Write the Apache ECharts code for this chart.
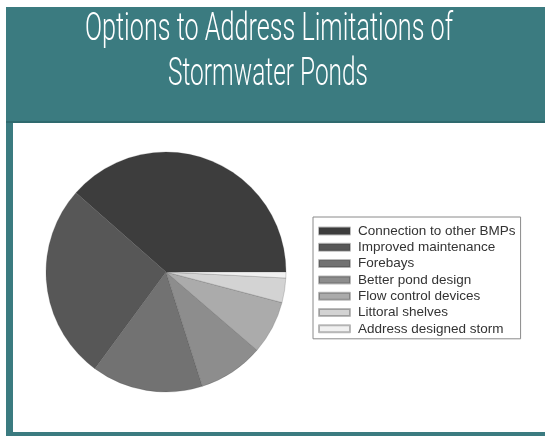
<!DOCTYPE html>
<html>
<head>
<meta charset="utf-8">
<script src="https://cdn.jsdelivr.net/npm/echarts@6/dist/echarts.min.js"></script>
<style>
  html, body { margin: 0; padding: 0; background: #ffffff; }
  #chart { width: 545px; height: 436px; }
</style>
</head>
<body>
<div id="chart"></div>
<script>
// Survey options and their shares (percent of responses)
const categories = [
  'Connection to other BMPs',
  'Improved maintenance',
  'Forebays',
  'Better pond design',
  'Flow control devices',
  'Littoral shelves',
  'Address designed storm'
];
const shares = [38.5, 26.4, 15.0, 8.8, 7.2, 3.3, 0.8];
const titleLines = ['Options to Address Limitations of', 'Stormwater Ponds'];

const shades = ['#3d3d3d', '#575757', '#727272', '#8d8d8d', '#ababab', '#d3d3d3', '#f0f0f0'];
const teal = '#3b7b80';

// Condensed headline: measure the natural width, then squeeze horizontally
const titleFont = '300 39px Roboto, "Liberation Sans", sans-serif';
const ctx = document.createElement('canvas').getContext('2d');
ctx.font = titleFont;
function squeeze(text, target) { return target / ctx.measureText(text).width; }

const chart = echarts.init(document.getElementById('chart'), null, { renderer: 'canvas' });

chart.setOption({
  animation: false,
  backgroundColor: '#ffffff',
  graphic: [
    { type: 'rect', shape: { x: 6, y: 7, width: 539, height: 116 }, style: { fill: teal }, z: 0 },
    { type: 'rect', shape: { x: 6, y: 121, width: 539, height: 2 }, style: { fill: '#2f6a6e' }, z: 1 },
    { type: 'rect', shape: { x: 6, y: 123, width: 7, height: 313 }, style: { fill: teal }, z: 0 },
    { type: 'rect', shape: { x: 6, y: 432, width: 539, height: 4 }, style: { fill: teal }, z: 0 },
    {
      type: 'text', x: 269, y: 30, scaleX: squeeze(titleLines[0], 368), z: 2,
      style: { text: titleLines[0], font: titleFont, fill: '#ffffff', textAlign: 'center', textVerticalAlign: 'middle' }
    },
    {
      type: 'text', x: 268, y: 75, scaleX: squeeze(titleLines[1], 200), z: 2,
      style: { text: titleLines[1], font: titleFont, fill: '#ffffff', textAlign: 'center', textVerticalAlign: 'middle' }
    }
  ],
  legend: {
    orient: 'vertical',
    left: 313,
    top: 217,
    padding: [7, 5, 3, 5],
    borderColor: '#8a8a8a',
    borderWidth: 1,
    itemWidth: 31,
    itemHeight: 7,
    itemGap: 2.3,
    icon: 'rect',
    selectedMode: false,
    data: categories,
    textStyle: {
      fontFamily: 'Liberation Sans, Arial, sans-serif',
      fontSize: 13.5,
      lineHeight: 12,
      color: '#333333',
      padding: [0, 0, 0, 3]
    }
  },
  series: [{
    type: 'pie',
    center: [166, 272],
    radius: 120,
    startAngle: 0,
    clockwise: false,
    label: { show: false },
    labelLine: { show: false },
    silent: true,
    itemStyle: { borderColor: 'rgba(60,60,60,0.35)', borderWidth: 0.6 },
    data: categories.map((name, i) => ({
      name: name,
      value: shares[i],
      itemStyle: { color: shades[i] }
    }))
  }]
});
</script>
</body>
</html>
